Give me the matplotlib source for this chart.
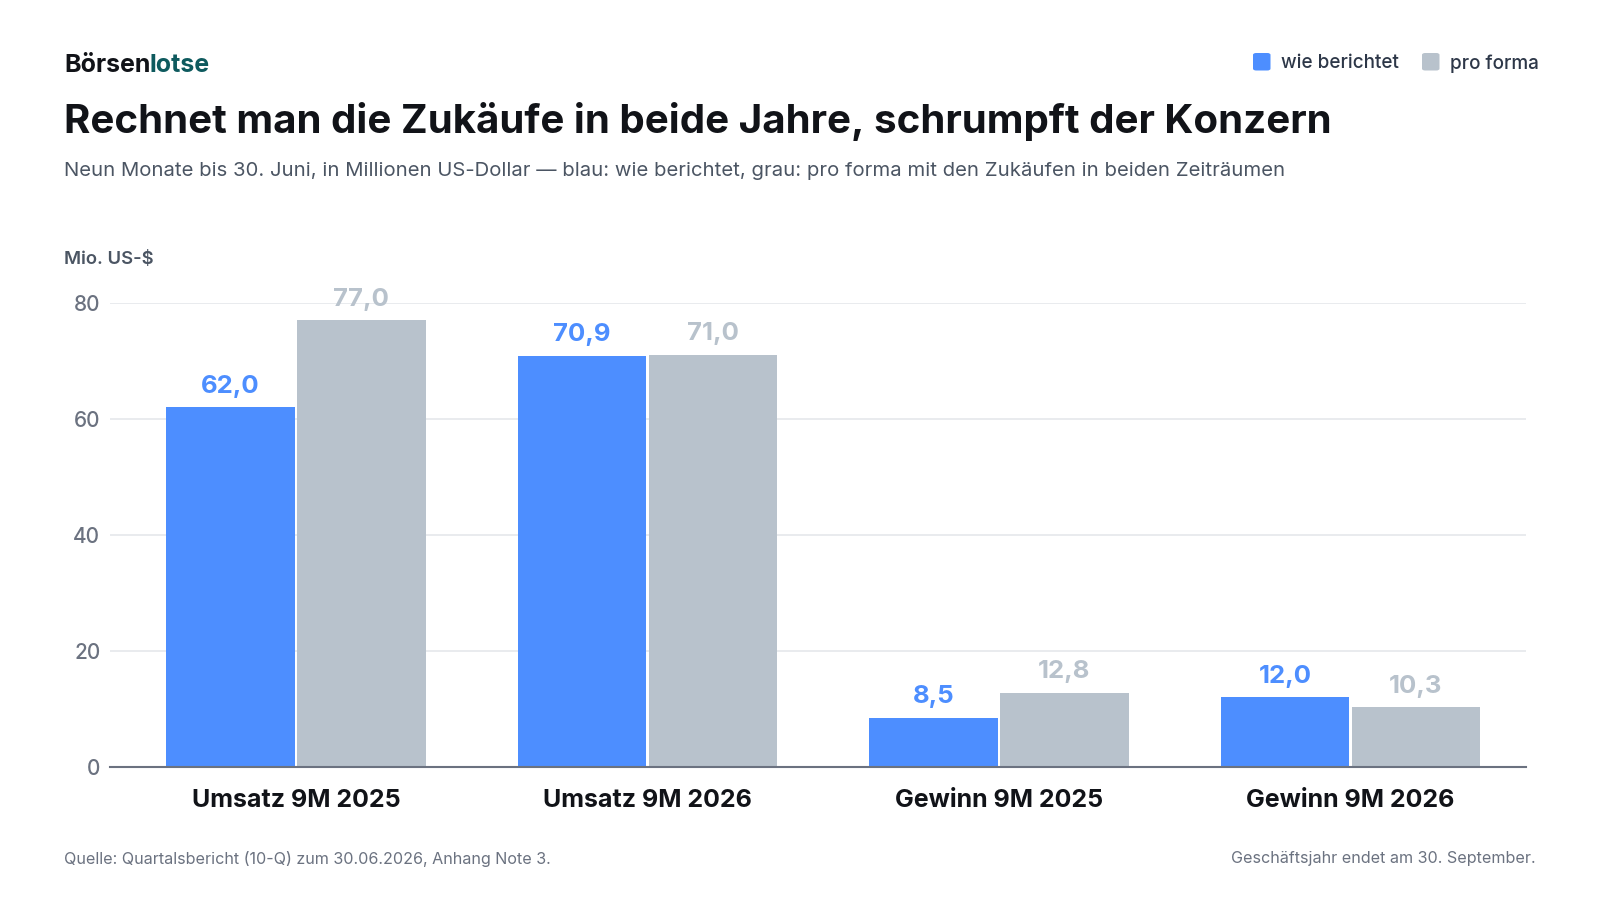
import matplotlib
matplotlib.use("Agg")
import matplotlib.pyplot as plt
from matplotlib.patches import FancyBboxPatch
import numpy as np

categories = ["Umsatz 9M 2025", "Umsatz 9M 2026", "Gewinn 9M 2025", "Gewinn 9M 2026"]
reported = [62.0, 70.9, 8.5, 12.0]
proforma = [77.0, 71.0, 12.8, 10.3]
yticks = [0, 20, 40, 60, 80]

BLUE = "#4D8EFF"
GREY = "#B8C2CC"
DARK = "#111318"
TEAL = "#0E5A5E"
SUB = "#4B5563"
TICK = "#6B7280"
GRID = "#E5E7EB"

plt.rcParams['font.family'] = ['Inter', 'DejaVu Sans']

W, H = 1600, 900
fig = plt.figure(figsize=(16, 9), dpi=100)
fig.patch.set_facecolor("white")

def fx(px): return px / W
def fy(py): return 1 - py / H

ax = fig.add_axes([fx(110), fy(767), fx(1525.5) - fx(110), fy(303) - fy(767)])
x = np.arange(len(categories))
bw = 0.366
off = 0.186
b1 = ax.bar(x - off, reported, width=bw, color=BLUE, zorder=3)
b2 = ax.bar(x + off, proforma, width=bw, color=GREY, zorder=3)

def fmt(v):
    return f"{v:.1f}".replace(".", ",")

for rects, vals, col in ((b1, reported, BLUE), (b2, proforma, GREY)):
    for r, v in zip(rects, vals):
        ax.annotate(fmt(v), (r.get_x() + r.get_width() / 2, v), xytext=(0, 7),
                    textcoords="offset points", ha="center", va="bottom",
                    fontsize=18.5, fontweight="bold", color=col, zorder=4)

ax.set_xlim(-0.529, 3.498)
ax.set_ylim(0, 80)
ax.set_yticks(yticks)
ax.set_yticklabels([str(t) for t in yticks], fontsize=15, color=TICK, fontweight="medium")
ax.set_xticks(x)
ax.set_xticklabels(categories, fontsize=18, fontweight="bold", color=DARK)
ax.tick_params(axis="y", length=0, pad=7)
ax.tick_params(axis="x", length=0, pad=16)
ax.grid(axis="y", color=GRID, linewidth=1.2, zorder=0)
for s in ("top", "right", "left"):
    ax.spines[s].set_visible(False)
ax.spines["bottom"].set_color(TICK)
ax.spines["bottom"].set_linewidth(1.5)
ax.spines["bottom"].set_zorder(5)

# Header
t1 = fig.text(fx(64), fy(65), "Börsen", fontsize=18, fontweight="bold", color=DARK, va="center", ha="left")
fig.canvas.draw()
r = fig.canvas.get_renderer()
bb = t1.get_window_extent(r)
fig.text((bb.x1 - 1) / W, fy(65), "lotse", fontsize=18, fontweight="bold", color=TEAL, va="center", ha="left")

fig.text(fx(64), fy(121.5), "Rechnet man die Zukäufe in beide Jahre, schrumpft der Konzern",
         fontsize=29, fontweight="bold", color=DARK, va="center", ha="left")
fig.text(fx(64), fy(171), "Neun Monate bis 30. Juni, in Millionen US-Dollar — blau: wie berichtet, grau: pro forma mit den Zukäufen in beiden Zeiträumen",
         fontsize=14.6, color=SUB, va="center", ha="left")
fig.text(fx(64), fy(259), "Mio. US-$", fontsize=13.3, fontweight="semibold", color=SUB, va="center", ha="left")

# Legend
for sx, tx, col, lab in ((1253, 1281, BLUE, "wie berichtet"), (1422, 1450, GREY, "pro forma")):
    p = FancyBboxPatch((fx(sx), fy(70.5)), fx(17.5), fy(53) - fy(70.5),
                       boxstyle="round,pad=0,rounding_size=0.002", transform=fig.transFigure,
                       facecolor=col, edgecolor="none")
    fig.patches.append(p)
    fig.text(fx(tx), fy(63.5), lab, fontsize=13.6, fontweight="medium", color="#2D3748", va="center", ha="left")

# Footer
fig.text(fx(64), fy(859), "Quelle: Quartalsbericht (10-Q) zum 30.06.2026, Anhang Note 3.",
         fontsize=11.6, color=TICK, va="center", ha="left")
fig.text(fx(1536), fy(859), "Geschäftsjahr endet am 30. September.",
         fontsize=11.6, color=TICK, va="center", ha="right")

fig.savefig("out.png", dpi=100, facecolor="white")
